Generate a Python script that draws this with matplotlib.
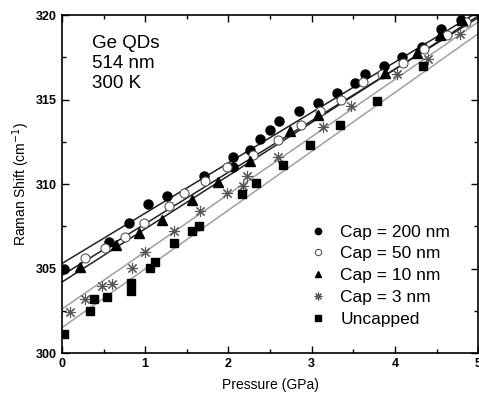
import numpy as np
import matplotlib
matplotlib.use('Agg')
import matplotlib.pyplot as plt
from matplotlib.ticker import MultipleLocator

plt.rcParams['font.family'] = ['Liberation Sans', 'DejaVu Sans']

# Cap = 200 nm (filled circles)
p_200 = [0.02, 0.57, 0.80, 1.03, 1.26, 1.70, 2.05, 2.06, 2.26, 2.38, 2.50, 2.61,
         2.85, 3.07, 3.30, 3.52, 3.64, 3.87, 4.09, 4.32, 4.55, 4.79]
s_200 = [305.0, 306.6, 307.7, 308.8, 309.3, 310.5, 311.6, 311.0, 312.0, 312.65, 313.2, 313.75,
         314.3, 314.8, 315.4, 316.0, 316.5, 317.0, 317.5, 318.1, 319.2, 319.7]

# Cap = 50 nm (open circles)
p_50 = [0.28, 0.52, 0.76, 0.98, 1.28, 1.46, 1.72, 1.98, 2.30, 2.60, 2.87, 3.10,
        3.35, 3.62, 3.85, 4.10, 4.35, 4.62, 4.85]
s_50 = [305.6, 306.2, 306.85, 307.7, 308.7, 309.5, 310.2, 311.0, 311.7, 312.6, 313.5, 314.3,
        315.0, 316.05, 316.5, 317.15, 318.0, 318.8, 319.6]

# Cap = 10 nm (triangles)
p_10 = [0.22, 0.65, 0.92, 1.20, 1.56, 1.88, 2.26, 2.74, 3.08, 3.88, 4.26, 4.54, 4.80]
s_10 = [305.1, 306.4, 307.1, 307.9, 309.05, 310.1, 311.35, 313.15, 314.1, 316.55, 317.75, 318.8, 319.7]

# Cap = 3 nm (stars)
p_3 = [0.10, 0.28, 0.48, 0.60, 0.84, 1.00, 1.34, 1.66, 1.98, 2.18, 2.22, 2.59,
       3.14, 3.47, 4.02, 4.40, 4.78]
s_3 = [302.4, 303.2, 303.95, 304.1, 305.05, 306.0, 307.2, 308.4, 309.5, 309.9, 310.5, 311.6,
       313.35, 314.6, 316.5, 317.4, 318.9]

# Uncapped (squares)
p_unc = [0.02, 0.34, 0.39, 0.54, 0.83, 0.83, 1.06, 1.12, 1.34, 1.56, 1.64, 2.16,
         2.33, 2.66, 2.98, 3.34, 3.78, 4.34]
s_unc = [301.1, 302.5, 303.2, 303.3, 304.15, 303.7, 305.05, 305.4, 306.5, 307.2, 307.5, 309.4,
         310.07, 311.15, 312.3, 313.5, 314.9, 317.0]

# linear fits: intercept (cm-1), slope (cm-1/GPa)
fit_intercepts = [305.3, 304.6, 304.2, 302.6, 301.5]
fit_slopes = [2.98, 3.05, 3.15, 3.40, 3.48]

labels = ['Cap = 200 nm', 'Cap = 50 nm', 'Cap = 10 nm', 'Cap = 3 nm', 'Uncapped']


def main() -> None:
    fig = plt.figure(figsize=(4.79, 3.98), dpi=100)
    ax = fig.add_axes([0.1294, 0.113, 0.869, 0.849])

    # fitted lines
    line_colors = ['#222222', '#222222', '#222222', '#a0a0a0', '#a0a0a0']
    px = np.array([0.0, 5.0])
    for a, b, c in zip(fit_intercepts, fit_slopes, line_colors):
        ax.plot(px, a + b * px, color=c, lw=1.1, zorder=1)

    # data points
    ax.plot(p_200, s_200, 'o', ms=6.5, color='black', mec='black', label=labels[0], zorder=3)
    ax.plot(p_50, s_50, 'o', ms=6.5, mfc='white', mec='#555555', mew=0.8, label=labels[1], zorder=3)
    ax.plot(p_10, s_10, '^', ms=7, color='black', label=labels[2], zorder=3)
    ax.plot(p_3, s_3, marker=(8, 2, 0), ls='none', ms=8, color='#555555', mew=0.8,
            label=labels[3], zorder=3)
    ax.plot(p_unc, s_unc, 's', ms=5.8, color='black', label=labels[4], zorder=3)

    ax.set_xlim(0, 5)
    ax.set_ylim(300, 320)
    ax.xaxis.set_major_locator(MultipleLocator(1))
    ax.xaxis.set_minor_locator(MultipleLocator(0.5))
    ax.yaxis.set_major_locator(MultipleLocator(5))
    ax.yaxis.set_minor_locator(MultipleLocator(2.5))
    ax.tick_params(which='both', direction='in', top=True, right=True, labelsize=9, width=1.0)
    ax.tick_params(which='major', length=5)
    ax.tick_params(which='minor', length=3)
    for lab in ax.get_xticklabels() + ax.get_yticklabels():
        lab.set_fontweight('bold')
    for sp in ax.spines.values():
        sp.set_linewidth(1.2)

    ax.set_xlabel('Pressure (GPa)', fontsize=10, labelpad=6)
    ax.set_ylabel('Raman Shift (cm$^{-1}$)', fontsize=10, labelpad=3)

    ax.text(0.072, 0.942, 'Ge QDs\n514 nm\n300 K', transform=ax.transAxes,
            fontsize=13.5, va='top', ha='left', linespacing=1.25)

    ax.legend(loc='lower right', frameon=False, fontsize=12.5, markerscale=0.7,
              handlelength=0.8, handletextpad=0.9, labelspacing=0.38,
              borderaxespad=0.3, bbox_to_anchor=(0.962, 0.042))

    fig.savefig('out.png', dpi=100)
    plt.close(fig)


if __name__ == "__main__":
    main()
